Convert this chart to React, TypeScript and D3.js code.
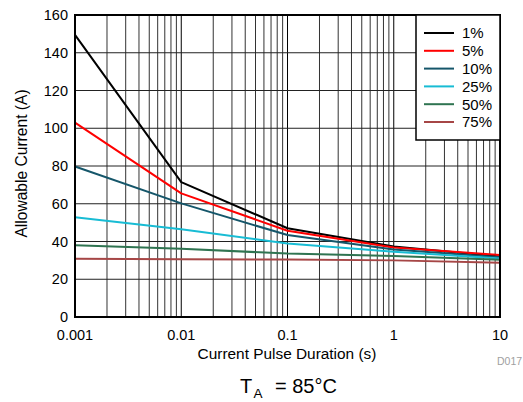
import React from "react";
import * as d3 from "d3";

const durations = [0.001, 0.01, 0.1, 1, 10];
const seriesNames = ["1%", "5%", "10%", "25%", "50%", "75%"];
const seriesColors = ["#000000", "#ff0000", "#15566a", "#18bcd4", "#2f7451", "#a64646"];
const current1 = [149.5, 71.5, 47, 37.3, 32.0];
const current5 = [103, 65.5, 45.7, 36.8, 32.8];
const current10 = [79.7, 60.2, 43.4, 35.8, 31.6];
const current25 = [52.8, 46.5, 39.0, 34.6, 31.0];
const current50 = [38.0, 36.2, 33.6, 32.3, 30.3];
const current75 = [30.9, 30.6, 30.4, 30.0, 28.8];
const seriesValues = [current1, current5, current10, current25, current50, current75];
const xTickLabels = ["0.001", "0.01", "0.1", "1", "10"];
const yTicks = [0, 20, 40, 60, 80, 100, 120, 140, 160];

const W = 523;
const H = 402;
const L = 75, R = 500, T = 15, B = 317;
const FONT = "'Liberation Sans', Arial, Helvetica, sans-serif";

export default function App() {
  const x = d3.scaleLog().domain([0.001, 10]).range([L, R]);
  const y = d3.scaleLinear().domain([0, 160]).range([B, T]);
  const line = d3
    .line<number>()
    .x((_, i) => x(durations[i]))
    .y((d) => y(d));

  const minor: number[] = [];
  for (let e = -3; e < 1; e++) {
    for (let k = 2; k <= 9; k++) minor.push(k * Math.pow(10, e));
  }

  const legX = 416, legY = 15, legW = 84, legH = 125;
  const rowY0 = 33, rowStep = 17.8;

  return (
    <svg width={W} height={H} style={{ position: "absolute", left: 0, top: 0 }} fontFamily={FONT}>
      <rect x={0} y={0} width={W} height={H} fill="#fff" />
      {/* minor vertical grid */}
      {minor.map((m, i) => (
        <line key={"m" + i} x1={x(m)} x2={x(m)} y1={T} y2={B} stroke="#333" strokeWidth={1} />
      ))}
      {durations.map((d, i) => (
        <line key={"d" + i} x1={x(d)} x2={x(d)} y1={T} y2={B} stroke="#000" strokeWidth={1} />
      ))}
      {yTicks.map((v) => (
        <line key={"h" + v} x1={L} x2={R} y1={y(v)} y2={y(v)} stroke="#222" strokeWidth={1} />
      ))}
      {/* series */}
      {seriesValues.map((vals, i) => (
        <path key={"s" + i} d={line(vals) || ""} fill="none" stroke={seriesColors[i]} strokeWidth={2} strokeLinejoin="round" />
      ))}
      {/* frame */}
      <rect x={L} y={T} width={R - L} height={B - T} fill="none" stroke="#000" strokeWidth={2} />
      {/* legend */}
      <rect x={legX} y={legY} width={legW} height={legH} fill="#fff" stroke="#000" strokeWidth={1.5} />
      {seriesNames.map((n, i) => (
        <g key={"l" + i}>
          <line x1={424} x2={454} y1={rowY0 + i * rowStep} y2={rowY0 + i * rowStep} stroke={seriesColors[i]} strokeWidth={2} />
          <text x={462} y={rowY0 + i * rowStep} dy="0.36em" fontSize={15} fill="#000">{n}</text>
        </g>
      ))}
      {/* y ticks */}
      {yTicks.map((v) => (
        <text key={"yt" + v} x={68} y={y(v)} dy="0.36em" textAnchor="end" fontSize={14.5} fill="#000">{v}</text>
      ))}
      {durations.map((d, i) => (
        <text key={"xt" + i} x={x(d)} y={339.5} textAnchor="middle" fontSize={14.5} fill="#000">{xTickLabels[i]}</text>
      ))}
      <text x={287} y={359} textAnchor="middle" fontSize={15.4} fill="#000">Current Pulse Duration (s)</text>
      <text transform={`translate(26.5,163.5) rotate(-90)`} textAnchor="middle" fontSize={15.6} fill="#000">Allowable Current (A)</text>
      <text x={497} y={364.5} fontSize={10.5} fill="#a0a0a0">D017</text>
      <text x={240} y={393} fontSize={20} fill="#000">
        T<tspan x={253.5} dy={5} fontSize={13.5}>A</tspan><tspan x={275} dy={-5}>= 85°C</tspan>
      </text>
    </svg>
  );
}
